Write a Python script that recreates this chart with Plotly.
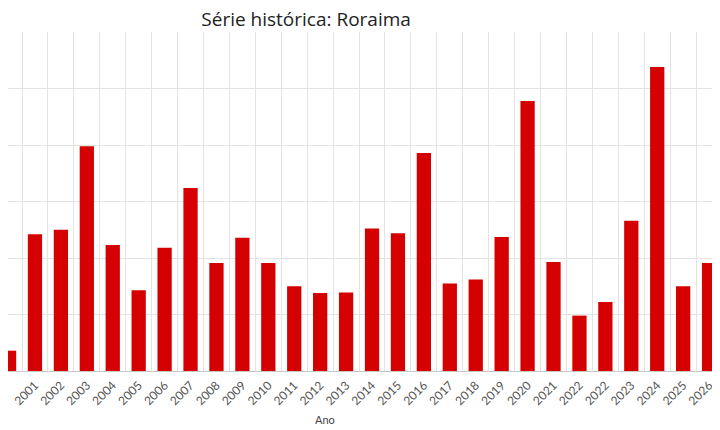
import plotly.graph_objects as go

# ano (o rótulo 2022 aparece duas vezes no original)
anos = ["2000", "2001", "2002", "2003", "2004", "2005", "2006", "2007", "2008", "2009",
        "2010", "2011", "2012", "2013", "2014", "2015", "2016", "2017", "2018", "2019",
        "2020", "2021", "2022", "2022", "2023", "2024", "2025", "2026"]
valores = [3.6, 24.2, 25.0, 39.8, 22.3, 14.3, 21.8, 32.4, 19.1, 23.6,
           19.1, 15.0, 13.8, 13.9, 25.2, 24.4, 38.6, 15.5, 16.2, 23.7,
           47.8, 19.3, 9.8, 12.2, 26.6, 53.8, 15.0, 19.1]

posicoes = list(range(len(anos)))

fig = go.Figure()
fig.add_trace(go.Bar(x=posicoes, y=valores, width=0.55,
                     marker=dict(color="#d50000", line=dict(width=0))))

# a página desloca a figura 8px (margem do body), compensado aqui
fig.update_layout(
    width=720, height=430,
    margin=dict(l=0, r=0, t=24, b=67),
    paper_bgcolor="white", plot_bgcolor="white",
    showlegend=False,
    title=dict(text="Série histórica: Roraima", x=0.414, xanchor="center",
               y=0.99, yanchor="top", yref="container",
               font=dict(family="Open Sans", size=19, color="#222")),
    font=dict(family="Lato", color="#444"),
)
fig.update_xaxes(
    range=[-0.04, 27.73], automargin=False,
    tickmode="array", tickvals=posicoes, ticktext=anos,
    tickangle=-45, tickfont=dict(size=12, color="#555"), ticklabelstandoff=4,
    showgrid=False, zeroline=False, showline=False, ticks="",
    minor=dict(tick0=0.5, dtick=1, showgrid=True, gridcolor="#e3e3e3", ticks=""),
)
fig.update_yaxes(
    range=[0, 60], dtick=10, showticklabels=False, automargin=False,
    showgrid=True, gridcolor="#e3e3e3",
    zeroline=True, zerolinecolor="#c8c8c8", zerolinewidth=1,
)
fig.add_annotation(text="Ano", xref="paper", yref="paper", x=0.440, y=-0.142,
                   xanchor="center", yanchor="middle", showarrow=False,
                   font=dict(family="Lato", size=11, color="#444"))

fig.write_html("out.html")
